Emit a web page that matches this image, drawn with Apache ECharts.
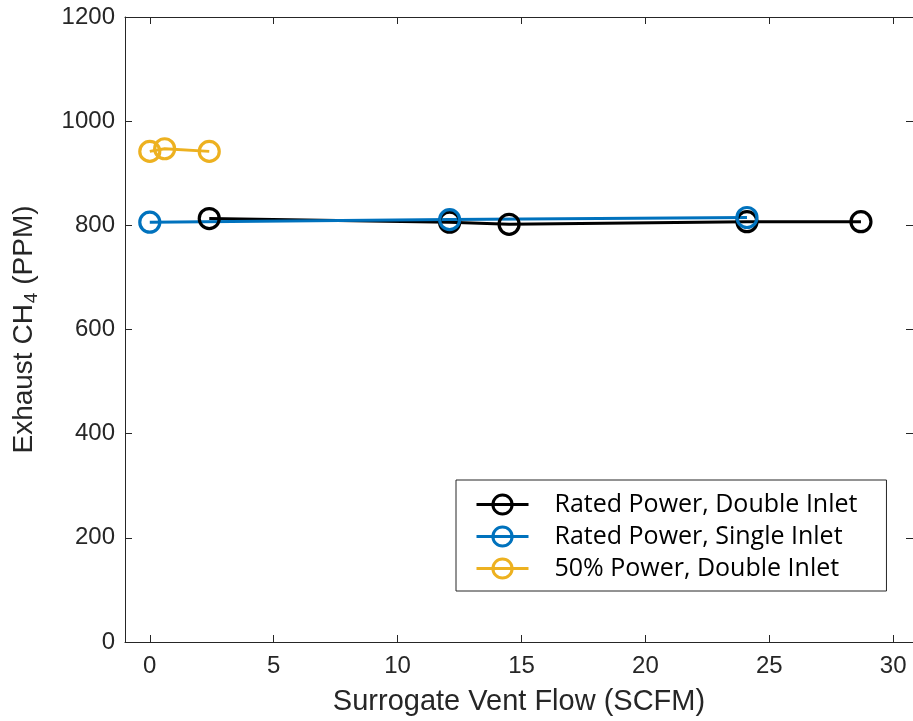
<!DOCTYPE html>
<html>
<head>
<meta charset="utf-8">
<script src="https://cdn.jsdelivr.net/npm/echarts@6/dist/echarts.min.js"></script>
<style>
  html, body { margin: 0; padding: 0; background: #fff; }
  #chart { width: 913px; height: 721px; }
</style>
</head>
<body>
<div id="chart"></div>
<script>
// data
let seriesNames = ['Rated Power, Double Inlet', 'Rated Power, Single Inlet', '50% Power, Double Inlet'];
let ratedDouble = [[2.4, 813], [12.1, 806], [14.5, 802], [24.1, 807], [28.7, 807]];
let ratedSingle = [[0, 806], [12.1, 811], [24.1, 815]];
let halfDouble = [[0, 942], [0.6, 947], [2.4, 942]];
let xTicks = [0, 5, 10, 15, 20, 25, 30];
let colors = ['#000000', '#0072BD', '#EDB120'];

let axisColor = '#262626';
let labelFont = 'Liberation Sans';

function lineSeries(name, data, color) {
    return {
        name: name,
        type: 'line',
        data: data,
        symbol: 'circle',
        symbolSize: 20,
        color: color,
        lineStyle: { color: color, width: 3 },
        itemStyle: { color: 'transparent', borderColor: color, borderWidth: 3.2 },
        emphasis: { disabled: true },
        animation: false
    };
}

let chart = echarts.init(document.getElementById('chart'));
chart.setOption({
    backgroundColor: '#fff',
    grid: { left: 125, right: -4, top: 17, bottom: 76 },
    legend: {
        orient: 'vertical',
        left: 456,
        top: 480,
        padding: [12, 29, 10, 19],
        itemWidth: 52,
        itemHeight: 24,
        itemGap: 7,
        borderColor: '#262626',
        borderWidth: 1,
        backgroundColor: '#fff',
        lineStyle: { width: 3 },
        itemStyle: { borderWidth: 3 },
        textStyle: { fontFamily: 'Open Sans', fontSize: 25, lineHeight: 25, color: '#000', padding: [0, 0, 0, 21] },
        data: seriesNames
    },
    xAxis: [{
        type: 'value',
        min: -1,
        max: 30.8,
        name: 'Surrogate Vent Flow (SCFM)',
        nameLocation: 'middle',
        nameGap: 45,
        nameTextStyle: { fontFamily: labelFont, fontSize: 29, color: axisColor },
        axisLine: { onZero: false, lineStyle: { color: axisColor, width: 1 } },
        axisTick: { inside: true, length: 7, customValues: xTicks, lineStyle: { color: axisColor } },
        axisLabel: { customValues: xTicks, margin: 12, fontFamily: labelFont, fontSize: 24, color: axisColor },
        splitLine: { show: false }
    }, {
        type: 'value',
        position: 'top',
        min: -1,
        max: 30.8,
        axisLine: { onZero: false, lineStyle: { color: axisColor, width: 1 } },
        axisTick: { inside: true, length: 7, customValues: xTicks, lineStyle: { color: axisColor } },
        axisLabel: { show: false },
        splitLine: { show: false }
    }],
    yAxis: [{
        type: 'value',
        min: 0,
        max: 1200,
        interval: 200,
        name: 'Exhaust CH{sub|4} (PPM)',
        nameLocation: 'middle',
        nameGap: 84,
        nameTextStyle: {
            fontFamily: labelFont, fontSize: 28, color: axisColor,
            rich: { sub: { fontFamily: labelFont, fontSize: 19, color: axisColor, verticalAlign: 'bottom', padding: [14, 0, 0, 1] } }
        },
        axisLine: { show: true, onZero: false, lineStyle: { color: axisColor, width: 1 } },
        axisTick: { show: true, inside: true, length: 7, lineStyle: { color: axisColor } },
        axisLabel: { margin: 10, fontFamily: labelFont, fontSize: 24, color: axisColor, formatter: function (v) { return String(v); } },
        splitLine: { show: false }
    }, {
        type: 'value',
        position: 'right',
        min: 0,
        max: 1200,
        interval: 200,
        axisLine: { show: true, onZero: false, lineStyle: { color: axisColor, width: 1 } },
        axisTick: { show: true, inside: true, length: 7, lineStyle: { color: axisColor } },
        axisLabel: { show: false },
        splitLine: { show: false }
    }],
    series: [
        lineSeries(seriesNames[0], ratedDouble, colors[0]),
        lineSeries(seriesNames[1], ratedSingle, colors[1]),
        lineSeries(seriesNames[2], halfDouble, colors[2])
    ]
});
</script>
</body>
</html>
